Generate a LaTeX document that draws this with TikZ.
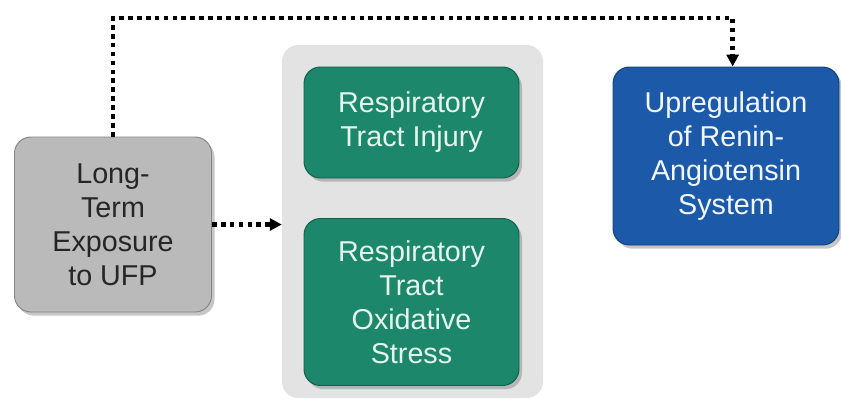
\documentclass[tikz,border=0pt]{standalone}
\usepackage{fontspec}
\setmainfont{Liberation Sans}
\usepackage{xcolor}
\definecolor{cGrayBox}{HTML}{BABABA}
\definecolor{cGrayLine}{HTML}{858585}
\definecolor{cPanel}{HTML}{E3E3E3}
\definecolor{cGreen}{HTML}{1C876B}
\definecolor{cGreenLine}{HTML}{105E49}
\definecolor{cBlue}{HTML}{1C59A8}
\definecolor{cBlueLine}{HTML}{123F7A}
\definecolor{cText}{HTML}{262626}
\definecolor{cLight}{HTML}{E6F4EE}
\usepackage{tikz}
\usetikzlibrary{positioning,arrows.meta,shadows,calc}
\tikzset{
  node-box/.style={thick,rounded corners=14pt,align=center,
    font=\fontsize{24.5}{29}\selectfont,
    drop shadow={shadow xshift=0.09cm,shadow yshift=-0.11cm,opacity=0.45}},
  node-gray/.style={node-box,draw=cGrayLine,fill=cGrayBox,text=cText},
  node-green/.style={node-box,draw=cGreenLine,fill=cGreen,text=cLight},
  node-blue/.style={node-box,draw=cBlueLine,fill=cBlue,text=cLight!80!cBlue!20!white},
  node-panel/.style={fill=cPanel,rounded corners=14pt},
  arrow-dot/.style={-{Triangle[length=3.6mm,width=3.6mm]},line width=4pt,
    dash pattern=on 4pt off 3.6pt,draw=black},
}

\begin{document}
\begin{tikzpicture}
  \useasboundingbox (0,0) rectangle (25.23,-12.12);
  \node[node-panel,minimum width=7.83cm,minimum height=10.59cm] (panel) at (12.375,-6.645) {};
  \node[node-gray,minimum width=5.91cm,minimum height=5.25cm] (ufp) at (3.39,-6.735)
    {Long-\\Term\\Exposure\\to UFP};
  \node[node-green,minimum width=6.45cm,minimum height=3.33cm] (injury) at (12.345,-3.675)
    {Respiratory\\Tract Injury};
  \node[node-green,minimum width=6.45cm,minimum height=5.01cm] (oxid) at (12.345,-9.06)
    {Respiratory\\Tract\\Oxidative\\Stress};
  \node[node-blue,minimum width=6.78cm,minimum height=5.34cm] (ras) at (21.78,-4.68)
    {Upregulation\\of Renin-\\Angiotensin\\System};
  \coordinate (top) at (3.39,-0.54);
  \draw[arrow-dot] (ufp.east) -- (panel.west |- ufp.east);
  \draw[arrow-dot] (ufp.north) -- (top) -| ([xshift=2mm]ras.north);
\end{tikzpicture}
\end{document}
